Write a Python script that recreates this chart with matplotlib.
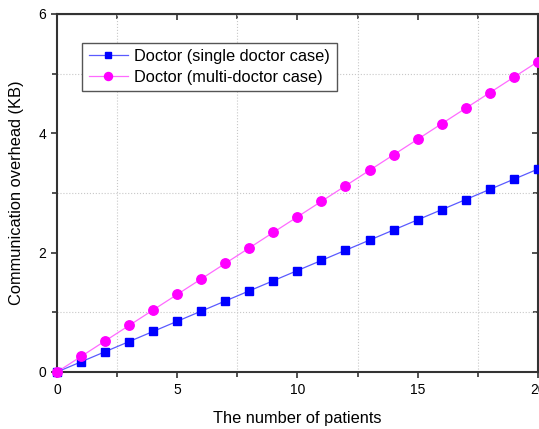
import numpy as np
import matplotlib.pyplot as plt
from matplotlib.ticker import MultipleLocator

plt.rcParams['font.family'] = ['Liberation Sans', 'DejaVu Sans']

patients = list(range(0, 21))
single_doc = [0.00, 0.17, 0.34, 0.51, 0.68, 0.85, 1.02, 1.19, 1.36, 1.53, 1.70,
              1.87, 2.04, 2.21, 2.38, 2.55, 2.72, 2.89, 3.06, 3.23, 3.40]
multi_doc = [0.00, 0.26, 0.52, 0.78, 1.04, 1.30, 1.56, 1.82, 2.08, 2.34, 2.60,
             2.86, 3.12, 3.38, 3.64, 3.90, 4.16, 4.42, 4.68, 4.94, 5.20]

fig = plt.figure(figsize=(5.39, 4.29), dpi=100)
ax = fig.add_axes([0.1058, 0.1329, 0.892, 0.8345])

ax.plot(patients, single_doc, color='#5a5aff', lw=0.9, marker='s', ms=5.6,
        mfc='#0000ff', mec='#0000ff', label='Doctor (single doctor case)', clip_on=False, zorder=3)
ax.plot(patients, multi_doc, color='#ff6aff', lw=0.9, marker='o', ms=6.8,
        mfc='#ff00ff', mec='#ff00ff', label='Doctor (multi-doctor case)', clip_on=False, zorder=3)

ax.set_xlim(0, 20)
ax.set_ylim(0, 6)
ax.xaxis.set_major_locator(MultipleLocator(5))
ax.xaxis.set_minor_locator(MultipleLocator(2.5))
ax.yaxis.set_major_locator(MultipleLocator(2))
ax.yaxis.set_minor_locator(MultipleLocator(1))
ax.grid(which='minor', color='#c8c8c8', ls=':', lw=0.8)

for s in ax.spines.values():
    s.set_color('#333333')
    s.set_linewidth(1.5)

ax.tick_params(which='both', direction='out', colors='#333333', labelcolor='black',
               labelsize=10, width=1.2)
ax.tick_params(which='major', length=4.5)
ax.tick_params(which='minor', length=3.5)

top = ax.secondary_xaxis('top')
top.xaxis.set_major_locator(MultipleLocator(5))
top.xaxis.set_minor_locator(MultipleLocator(2.5))
top.tick_params(which='both', direction='in', labeltop=False, colors='#333333', width=1.2)
top.tick_params(which='major', length=4.5)
top.tick_params(which='minor', length=3.5)
right = ax.secondary_yaxis('right')
right.yaxis.set_major_locator(MultipleLocator(2))
right.yaxis.set_minor_locator(MultipleLocator(1))
right.tick_params(which='both', direction='in', labelright=False, colors='#333333', width=1.2)
right.tick_params(which='major', length=4.5)
right.tick_params(which='minor', length=3.5)

ax.set_xlabel('The number of patients', fontsize=11.8, labelpad=10)
ax.set_ylabel('Communication overhead (KB)', fontsize=11.8, labelpad=10)

leg = ax.legend(loc='upper left', bbox_to_anchor=(0.052, 0.92), fontsize=11.8,
                fancybox=False, edgecolor='#555555', framealpha=1, handlelength=2.4,
                borderpad=0.4, labelspacing=0.35, handletextpad=0.4, borderaxespad=0,
                markerscale=0.85)
leg.get_frame().set_linewidth(1.0)

fig.savefig('out.png', dpi=100)
